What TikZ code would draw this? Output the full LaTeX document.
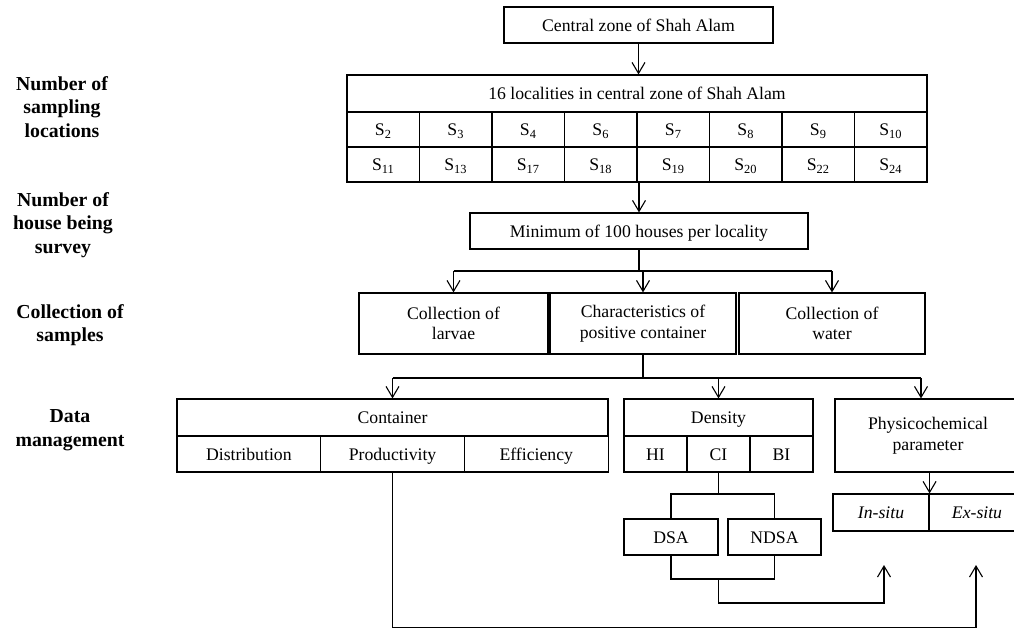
\documentclass[tikz,border=0pt]{standalone}
\usepackage{fontspec}
\setmainfont{Liberation Serif}
\usetikzlibrary{arrows.meta,positioning}

\tikzset{
  box/.style={draw, inner sep=0pt, align=center, font=\fontsize{17.7}{20.5}\selectfont},
  one/.style={box, text height=12.5pt, text depth=0pt},
  cell/.style={one, minimum width=72.5, minimum height=35},
  lbl/.style={align=center, font=\fontsize{19.8}{23.5}\selectfont\bfseries},
  arr/.style={-{Straight Barb[length=11pt,width=13pt]}},
}

\begin{document}
\begin{tikzpicture}[x=1pt,y=-1pt,line width=1.1pt]
\clip (0,0) rectangle (1014,628);

% row labels
\node[lbl] (lsamp) at (62,107) {Number of\\sampling\\locations};
\node[lbl] (lhouse) at (63,225) {Number of\\house being\\survey};
\node[lbl] (lcoll) at (70,325) {Collection of\\samples};
\node[lbl] (ldata) at (70,430) {Data\\management};

% sampling
\node[one, minimum width=269, minimum height=36] (zone) at (638.5,25) {Central zone of Shah Alam};
\node[one, minimum width=580, minimum height=37] (loc) at (637,93.5) {16 localities in central zone of Shah Alam};
\foreach \s [count=\i] in {2,3,4,6,7,8,9,10}
  \node[cell] (a\i) at (347+72.5*\i-36.25,129.5) {S\textsubscript{\s}};
\foreach \s [count=\i] in {11,13,17,18,19,20,22,24}
  \node[cell] (b\i) at (347+72.5*\i-36.25,164.5) {S\textsubscript{\s}};

\node[one, minimum width=338, minimum height=36] (minb) at (639,231) {Minimum of 100 houses per locality};

% samples
\node[box, minimum width=189, minimum height=61] (larv) at (453.5,323.5) {Collection of\\larvae};
\node[box, minimum width=186, minimum height=61] (chr) at (643,323.5) {Characteristics of\\positive container};
\node[box, minimum width=186, minimum height=61] (wat) at (832,323.5) {Collection of\\water};

% data management
\node[one, minimum width=431, minimum height=37] (cont) at (392.5,417.5) {Container};
\foreach \t [count=\i] in {Distribution,Productivity,Efficiency}
  \node[one, minimum width=143.7, minimum height=36] (c\i) at (177+143.7*\i-71.85,454) {\t};
\node[one, minimum width=189, minimum height=37] (dens) at (718.5,417.5) {Density};
\node[one, minimum width=63, minimum height=36] (hi) at (655.5,454) {HI};
\node[one, minimum width=63, minimum height=36] (ci) at (718.5,454) {CI};
\node[one, minimum width=63, minimum height=36] (bi) at (781.5,454) {BI};
\node[one, minimum width=94, minimum height=36] (dsa) at (671,537) {DSA};
\node[one, minimum width=93, minimum height=36] (ndsa) at (774.5,537) {NDSA};
\node[box, minimum width=186, minimum height=73] (phys) at (928,435.5) {Physicochemical\\parameter};
\node[one, minimum width=96, minimum height=37] (insitu) at (881,512.5) {\textit{In-situ}};
\node[one, minimum width=96, minimum height=37] (exsitu) at (977,512.5) {\textit{Ex-situ}};

\coordinate (split1) at (639,271);
\coordinate (split2) at (641,378);
\coordinate (csplit) at (718.5,494);
\coordinate (cjoin) at (718.5,579);
\coordinate (intip) at (884,565);
\coordinate (extip) at (976,565);

% connectors
\draw[arr] (zone.south) -- (zone.south |- loc.north);
\draw[arr] (minb.north |- b5.south) -- (minb.north);
\draw (minb.south) -- (split1);
\draw (larv.north |- split1) -- (wat.north |- split1);
\foreach \n in {larv,chr,wat}
  \draw[arr] (\n.north |- split1) -- (\n.north);
\draw (chr.south) -- (chr.south |- split2);
\draw (cont.north |- split2) -- ([xshift=-7pt]phys.north |- split2);
\foreach \n in {cont,dens}
  \draw[arr] (\n.north |- split2) -- (\n.north);
\draw[arr] ([xshift=-7pt]phys.north |- split2) -- ([xshift=-7pt]phys.north);
\draw[arr] (phys.south -| insitu.north east) -- (insitu.north east);
\draw (ci.south) -- (csplit);
\draw (dsa.north) |- (csplit) -| (ndsa.north);
\draw (dsa.south) |- (cjoin) -| (ndsa.south);
\draw[arr] (cjoin) -- ++(0,24) -| (intip);
\draw[arr] (c2.south) -- ++(0,155) -| (extip);
\end{tikzpicture}
\end{document}
